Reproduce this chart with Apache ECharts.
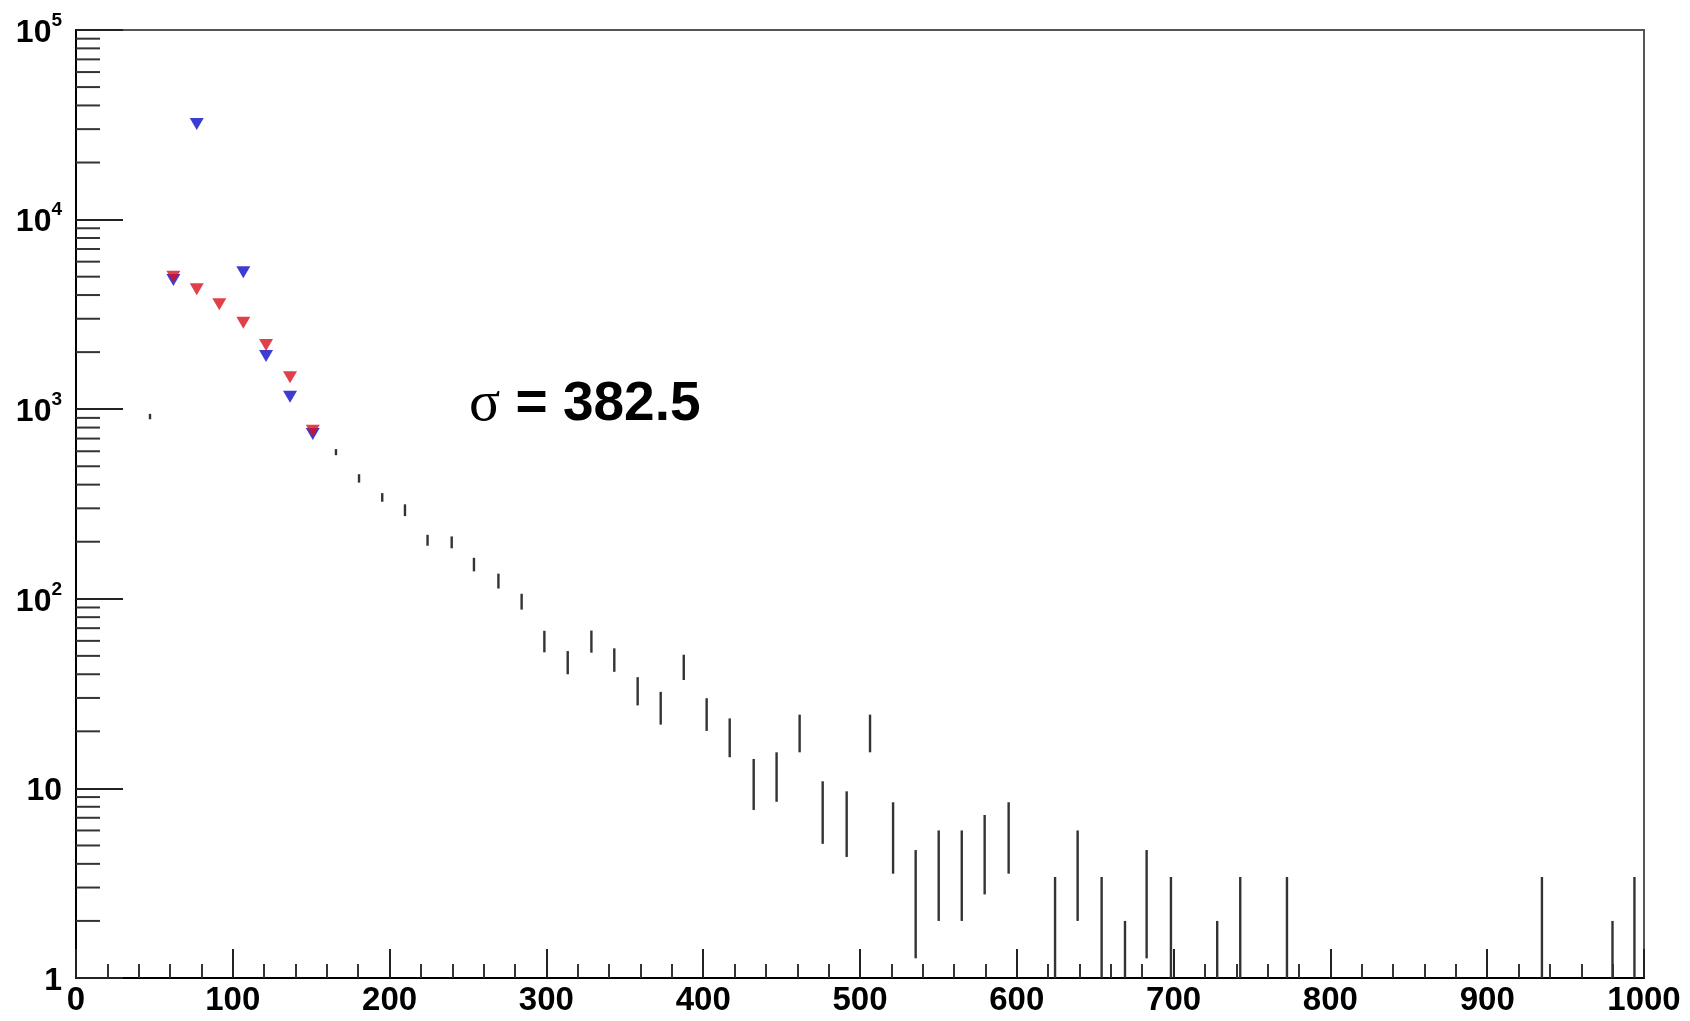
<!DOCTYPE html>
<html><head><meta charset="utf-8">
<script src="https://cdn.jsdelivr.net/npm/echarts@6/dist/echarts.min.js"></script>
<style>html,body{margin:0;padding:0;background:#fff}#c{width:1690px;height:1021px}</style>
</head><body><div id="c"></div>
<script>
// Black histogram: bin positions, counts and their errors
const binX = [47.2, 165.8, 180.5, 195.3, 209.8, 224.2, 239.6, 253.8, 269.4, 284.2, 298.7, 313.6, 328.7, 343.3, 358.2, 372.9, 387.6, 402.2, 416.9, 432.2, 446.8, 461.5, 476.2, 491.5, 506.4, 521.1, 535.5, 550.2, 564.9, 579.5, 594.8, 624.4, 638.8, 654.1, 669.0, 682.8, 698.3, 727.8, 742.5, 772.3, 934.9, 979.9, 993.9];
const counts = [915, 594, 432, 343, 294, 204, 199, 152, 124.5, 97, 60, 46.5, 60, 48, 33, 27, 44, 25, 19, 11, 12, 20, 8, 7, 20, 6, 3, 4, 4, 5, 6, 2, 4, 2, 1, 3, 2, 1, 2, 2, 2, 1, 2];
const countErr = [30, 22, 22, 18, 21, 13.5, 14.3, 12.5, 11.2, 9.3, 7.8, 6.5, 8, 6.8, 5.6, 5.3, 6.7, 4.9, 4.4, 3.3, 3.5, 4.5, 2.9, 2.65, 4.5, 2.45, 1.73, 2, 2, 2.24, 2.45, 1.41, 2, 1.41, 1, 1.73, 1.41, 1, 1.41, 1.41, 1.41, 1, 1.41];

// Red and blue triangle markers
const redX = [62.1, 77.0, 91.4, 106.7, 121.2, 136.5, 151.0];
const redY = [5000, 4290, 3575, 2860, 2180, 1473, 770];
const blueX = [62.1, 77.0, 106.7, 121.2, 136.5, 151.0];
const blueY = [4800, 31900, 5270, 1909, 1164, 740];

// Axis ticks and labels
const xTickValues = [0, 100, 200, 300, 400, 500, 600, 700, 800, 900, 1000];
const yTickValues = [1, 10, 100, 1000, 10000, 100000];
const yTickText = ['1', '10', '10', '10', '10', '10'];
const yTickSup = ['', '', '2', '3', '4', '5'];
const yMinorTicks = [2,3,4,5,6,7,8,9, 20,30,40,50,60,70,80,90, 200,300,400,500,600,700,800,900,
  2000,3000,4000,5000,6000,7000,8000,9000, 20000,30000,40000,50000,60000,70000,80000,90000];
const annotation = { sym: 'σ', text: ' = 382.5' };

const FONT = 'Liberation Sans, Arial, Helvetica, sans-serif';
const chart = echarts.init(document.getElementById('c'), null, { renderer: 'canvas' });

const option = {
  backgroundColor: '#fff',
  animation: false,
  grid: { left: 76, right: 46, top: 30, bottom: 43, show: true, borderColor: '#555', borderWidth: 2, backgroundColor: 'transparent', containLabel: false, outerBoundsMode: 'none' },
  xAxis: {
    type: 'value', min: 0, max: 1000, interval: 100,
    axisLine: { show: true, onZero: false, lineStyle: { color: '#000', width: 2 } },
    axisTick: { show: true, inside: true, length: 29, lineStyle: { color: '#222', width: 2 } },
    minorTick: { show: true, splitNumber: 5, length: 14, lineStyle: { color: '#333', width: 2 } },
    splitLine: { show: false },
    axisLabel: { margin: 6, color: '#000', fontSize: 33, fontWeight: 'bold', fontFamily: FONT,
      formatter: v => String(xTickValues[xTickValues.indexOf(Math.round(v))]) ,
      showMinLabel: true, showMaxLabel: true }
  },
  yAxis: {
    type: 'log', logBase: 10, min: 1, max: 100000, splitNumber: 5,
    axisLine: { show: true, onZero: false, lineStyle: { color: '#000', width: 2 } },
    axisTick: { show: true, inside: true, length: 47, lineStyle: { color: '#222', width: 2 } },
    minorTick: { show: false },
    splitLine: { show: false },
    axisLabel: {
      margin: 14, color: '#000',
      formatter: function (v) {
        const i = yTickValues.indexOf(Math.pow(10, Math.round(Math.log10(v))));
        if (i < 0) return '';
        return yTickSup[i] ? '{b|' + yTickText[i] + '}{s|' + yTickSup[i] + '}' : '{b|' + yTickText[i] + '}';
      },
      rich: {
        b: { fontSize: 32, fontWeight: 'bold', fontFamily: FONT, color: '#000', lineHeight: 38, verticalAlign: 'bottom' },
        s: { fontSize: 19, fontWeight: 'bold', fontFamily: FONT, color: '#000', lineHeight: 19, verticalAlign: 'top' }
      }
    }
  },
  graphic: [{
    type: 'text', x: 469, y: 405,
    style: {
      text: '{a|' + annotation.sym + '}{b|' + annotation.text + '}',
      verticalAlign: 'middle', align: 'left',
      rich: {
        a: { fontSize: 58, fontFamily: 'Liberation Serif, DejaVu Serif, serif', fill: '#000', fontWeight: 'normal' },
        b: { fontSize: 55, fontFamily: FONT, fontWeight: 'bold', fill: '#000' }
      }
    }
  }],
  series: [
    {
      type: 'custom', name: 'yMinor', silent: true, clip: false,
      data: yMinorTicks.map(v => [0, v]),
      renderItem: function (params, api) {
        const p = api.coord([0, api.value(1)]);
        return { type: 'line', shape: { x1: p[0], y1: p[1], x2: p[0] + 24, y2: p[1] }, style: { stroke: '#333', lineWidth: 2 } };
      }
    },
    {
      type: 'custom', name: 'hist', silent: true,
      data: binX.map((x, i) => [x, counts[i], countErr[i]]),
      renderItem: function (params, api) {
        const x = api.value(0), v = api.value(1), e = api.value(2);
        const lo = Math.max(v - e, 1);
        const p1 = api.coord([x, v + e]);
        const p2 = api.coord([x, lo]);
        return { type: 'line', shape: { x1: p1[0], y1: p1[1], x2: p2[0], y2: p2[1] }, style: { stroke: '#333', lineWidth: 2.4 } };
      }
    },
    {
      type: 'scatter', name: 'blue', symbol: 'triangle', symbolRotate: 180, symbolSize: [14, 12],
      itemStyle: { color: '#0c0cc8' },
      data: blueX.map((x, i) => [x, blueY[i]])
    },
    {
      type: 'scatter', name: 'red', symbol: 'triangle', symbolRotate: 180, symbolSize: [14, 12],
      itemStyle: { color: '#d8101c' },
      data: redX.map((x, i) => [x, redY[i]])
    }
  ]
};
chart.setOption(option);
</script>
</body></html>
